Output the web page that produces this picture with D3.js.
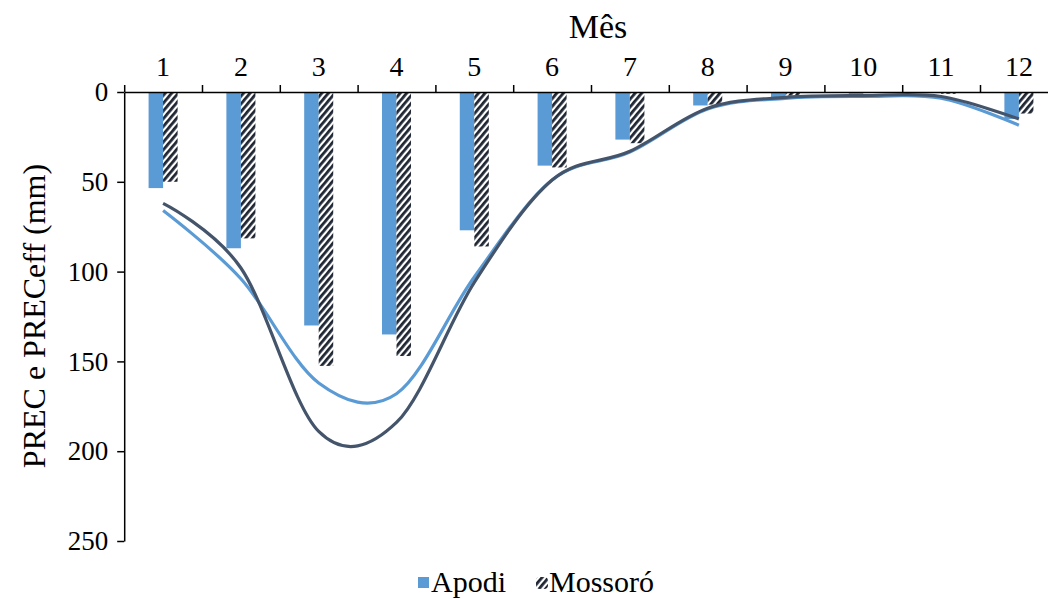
<!DOCTYPE html>
<html>
<head>
<meta charset="utf-8">
<script src="https://cdn.jsdelivr.net/npm/d3@7"></script>
<style>
  html, body { margin: 0; padding: 0; background: #fff; }
  svg { display: block; }
  svg text { font-family: "Liberation Serif", Tinos, "Times New Roman", Times, "DejaVu Serif", serif; fill: #000; }
</style>
</head>
<body>
<svg id="chart" width="1048" height="599"></svg>
<script>
// Monthly precipitation (bars) and effective precipitation (lines), mm
const months = [1, 2, 3, 4, 5, 6, 7, 8, 9, 10, 11, 12];
const series = ["Apodi", "Mossoró"];
const precApodi   = [53.5, 87, 130, 135, 77, 41, 26.5, 7.5, 3, 1, 0.5, 15];
const precMossoro = [50, 81.5, 152.5, 147, 86, 42, 28.5, 7, 2, 0.5, 1, 12];
const effApodi    = [66, 104, 162, 168, 103, 49, 33.5, 9.5, 3.5, 2.5, 3.5, 18.5];
const effMossoro  = [62, 98, 189, 184, 106, 49, 33, 9, 3, 2, 2.5, 15];
const yTicks = [0, 50, 100, 150, 200, 250];

const serif = "'Liberation Serif', Tinos, 'Times New Roman', Times, 'DejaVu Serif', serif";
const svg = d3.select("#chart");
const plotLeft = 124.2, plotTop = 92, plotBottom = 541, plotRight = 1057.8;

const x = d3.scaleBand().domain(months).range([plotLeft, plotRight]).padding(0);
const xEdge = d3.scaleLinear().domain([0, months.length]).range([plotLeft, plotRight]);
const xSub = d3.scaleBand().domain(series).range([0, x.bandwidth()])
  .paddingInner(0).paddingOuter(1.68);
const y = d3.scaleLinear().domain([0, 250]).range([plotTop, plotBottom]);

// hatch pattern for the Mossoró bars
const defs = svg.append("defs");
const pat = defs.append("pattern")
  .attr("id", "hatch").attr("patternUnits", "userSpaceOnUse")
  .attr("width", 5).attr("height", 5)
  .attr("patternTransform", "rotate(40)");
pat.append("rect").attr("width", 5).attr("height", 5).attr("fill", "#fff");
pat.append("rect").attr("width", 2.8).attr("height", 5).attr("fill", "#1f2633");

const fills = { "Apodi": "#5b9bd5", "Mossoró": "url(#hatch)" };
const prec = { "Apodi": precApodi, "Mossoró": precMossoro };

// bars hang down from the zero line
series.forEach(s => {
  svg.append("g").selectAll("rect").data(months).join("rect")
    .attr("x", m => x(m) + xSub(s))
    .attr("y", y(0))
    .attr("width", xSub.bandwidth())
    .attr("height", (m, i) => y(prec[s][i]) - y(0))
    .attr("fill", fills[s]);
});

// smoothed effective precipitation lines
const line = d3.line()
  .x((d, i) => x(months[i]) + x.bandwidth() / 2)
  .y(d => y(d))
  .curve(d3.curveCatmullRom.alpha(0));

svg.append("path").datum(effApodi).attr("d", line)
  .attr("fill", "none").attr("stroke", "#5b9bd5").attr("stroke-width", 3.2);
svg.append("path").datum(effMossoro).attr("d", line)
  .attr("fill", "none").attr("stroke", "#44546a").attr("stroke-width", 3.2);

// top axis: tick marks on month boundaries
const topAxis = svg.append("g").attr("transform", `translate(0,${plotTop})`)
  .call(d3.axisTop(xEdge).tickValues(d3.range(0, months.length + 1))
    .tickSize(7).tickSizeOuter(0).tickFormat(""));
topAxis.selectAll("path, line").attr("stroke", "#000").attr("stroke-width", 1.5);

// month labels centred in each band
svg.append("g").selectAll("text").data(months).join("text")
  .attr("x", m => x(m) + x.bandwidth() / 2)
  .attr("y", 76)
  .attr("text-anchor", "middle")
  .style("font-family", serif)
  .style("font-size", "28px")
  .text(m => m);

svg.append("text").attr("x", 598).attr("y", 38)
  .attr("text-anchor", "middle")
  .style("font-family", serif).style("font-size", "34px").text("Mês");

// left axis
const leftAxis = svg.append("g").attr("transform", `translate(${plotLeft},0)`)
  .call(d3.axisLeft(y).tickValues(yTicks).tickSize(7).tickSizeOuter(0).tickPadding(9));
leftAxis.attr("font-family", null);
leftAxis.selectAll("path, line").attr("stroke", "#000").attr("stroke-width", 1.5);
leftAxis.selectAll("text")
  .style("font-family", serif)
  .style("font-size", "27px").attr("fill", "#000");

svg.append("text")
  .attr("transform", "translate(45,316) rotate(-90)")
  .attr("text-anchor", "middle")
  .style("font-family", serif).style("font-size", "32px")
  .text("PREC e PRECeff (mm)");

// legend
const legend = svg.append("g");
legend.append("rect").attr("x", 418).attr("y", 577).attr("width", 11).attr("height", 11)
  .attr("fill", "#5b9bd5");
legend.append("text").attr("x", 431).attr("y", 592)
  .style("font-family", serif).style("font-size", "30px").text("Apodi");
legend.append("rect").attr("x", 536).attr("y", 577).attr("width", 12).attr("height", 12)
  .attr("rx", 4).attr("fill", "url(#hatch)");
legend.append("text").attr("x", 549).attr("y", 592)
  .style("font-family", serif).style("font-size", "30px").text("Mossoró");
</script>
</body>
</html>
